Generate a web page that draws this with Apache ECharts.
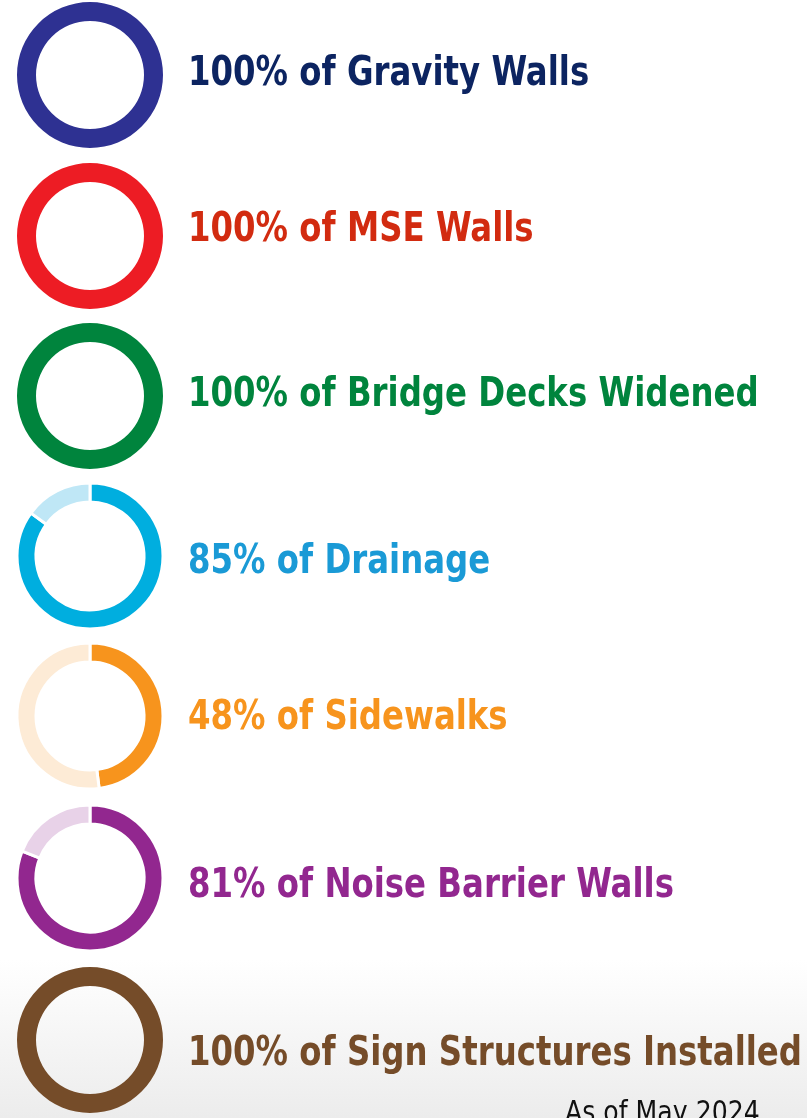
<!DOCTYPE html>
<html><head><meta charset="utf-8">
<script src="https://cdn.jsdelivr.net/npm/echarts@6/dist/echarts.min.js"></script>
<style>html,body{margin:0;padding:0;background:#fff}#c{width:807px;height:1118px}</style>
</head><body><div id="c"></div>
<script>
// data
const categories = ['Gravity Walls','MSE Walls','Bridge Decks Widened','Drainage','Sidewalks','Noise Barrier Walls','Sign Structures Installed'];
const percentComplete = [100, 100, 100, 85, 48, 81, 100];
const footnote = 'As of May 2024';

// styles
const ringColors  = ['#2E3192','#ED1C24','#00843D','#00AEDF','#F7941D','#92278F','#754C29'];
const lightColors = ['#D5D6EC','#FBD3D4','#CCE6D8','#BFE7F6','#FDEBD6','#E8D2E8','#E3D8CE'];
const textColors  = ['#0C2461','#D22B10','#00843D','#1A9AD6','#F7941D','#92278F','#754C29'];
const centersY = [75, 236, 396, 556, 716, 878, 1040];
const labelY   = [75, 231, 396, 563, 719, 887, 1055];

const chart = echarts.init(document.getElementById('c'));
const series = categories.map((cat, i) => {
  const p = percentComplete[i];
  const data = [{name: cat, value: p, itemStyle: {color: ringColors[i]}}];
  if (p < 100) data.push({name: cat + ' remaining', value: 100 - p, itemStyle: {color: lightColors[i]}});
  return {
    type: 'pie', center: [90, centersY[i]], radius: [54, 73],
    startAngle: 90, clockwise: true, silent: true, animation: false,
    label: {show: false}, labelLine: {show: false},
    itemStyle: {borderColor: '#fff', borderWidth: p < 100 ? 3 : 0},
    data
  };
});
const texts = categories.map((cat, i) => ({
  type: 'text', x: 188, y: labelY[i], scaleY: 1.12, silent: true,
  style: {text: percentComplete[i] + '% of ' + cat, fill: textColors[i],
    font: 'bold 36px "DejaVu Sans Condensed"', verticalAlign: 'middle'}
}));
chart.setOption({
  backgroundColor: '#fff',
  graphic: [
    {type: 'rect', left: 0, top: 960, shape: {width: 807, height: 158}, z: -10, silent: true,
     style: {fill: new echarts.graphic.LinearGradient(0,0,0,1,[{offset:0,color:'#ffffff'},{offset:1,color:'#ececec'}])}},
    ...texts,
    {type: 'text', x: 565, y: 1114, scaleY: 1.1, silent: true,
     style: {text: footnote, fill: '#111', font: '28px "DejaVu Sans Condensed"', verticalAlign: 'middle'}}
  ],
  series
});
</script></body></html>
